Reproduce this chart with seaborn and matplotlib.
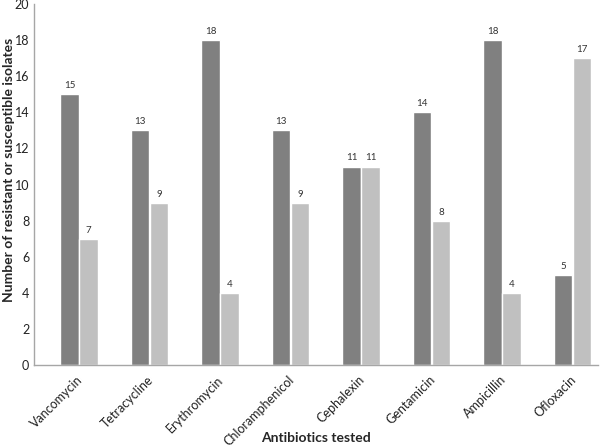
import matplotlib
matplotlib.use('Agg')
import matplotlib.pyplot as plt
import matplotlib.transforms as mtransforms
import seaborn as sns
import pandas as pd

antibiotics = ['Vancomycin', 'Tetracycline', 'Erythromycin', 'Chloramphenicol',
               'Cephalexin', 'Gentamicin', 'Ampicillin', 'Ofloxacin']
resistant = [15, 13, 18, 13, 11, 14, 18, 5]
susceptible = [7, 9, 4, 9, 11, 8, 4, 17]
blank = [0] * len(antibiotics)   # empty first series, as in the original Excel chart

sns.set_theme(style='white')
plt.rcParams['font.family'] = ['Lato', 'DejaVu Sans']

df = pd.DataFrame({
    'Antibiotic': antibiotics * 3,
    'Count': blank + resistant + susceptible,
    'Series': ['blank'] * 8 + ['Resistant'] * 8 + ['Susceptible'] * 8,
})

fig = plt.figure(figsize=(6, 4.47), dpi=100)
ax = fig.add_axes([0.057, 0.183, 0.94, 0.808])

sns.barplot(data=df, x='Antibiotic', y='Count', hue='Series',
            hue_order=['blank', 'Resistant', 'Susceptible'],
            palette=['white', '#808080', '#c0c0c0'],
            width=0.81, gap=0.03, saturation=1, errorbar=None, legend=False, ax=ax)

# labels above the real bars only
for cont in ax.containers[1:]:
    ax.bar_label(cont, fmt='%d', padding=3, fontsize=7, color='#333333')

ax.set_ylim(0, 20)
ax.set_yticks(range(0, 21, 2))
ax.set_xlim(-0.5, 7.5)
ax.tick_params(axis='y', labelsize=9, length=0, colors='#222222')
ax.tick_params(axis='x', labelsize=9, length=0, colors='#222222', pad=6)
offset = mtransforms.ScaledTranslation(7 / 100, 0, fig.dpi_scale_trans)
for lbl in ax.get_xticklabels():
    lbl.set_rotation(45)
    lbl.set_ha('right')
    lbl.set_rotation_mode('anchor')
    lbl.set_transform(lbl.get_transform() + offset)

ax.set_xlabel('')
ax.set_ylabel('')
fig.text(316 / 600, 1 - 438 / 447, 'Antibiotics tested', fontsize=10, fontweight='bold',
         ha='center', va='center')
fig.text(9 / 600, 1 - 170 / 447, 'Number of resistant or susceptible isolates', fontsize=10,
         fontweight='bold', rotation=90, ha='center', va='center')

sns.despine(ax=ax)
for s in ['left', 'bottom']:
    ax.spines[s].set_color('#a6a6a6')
    ax.spines[s].set_linewidth(1)

plt.savefig('out.png', dpi=100)
